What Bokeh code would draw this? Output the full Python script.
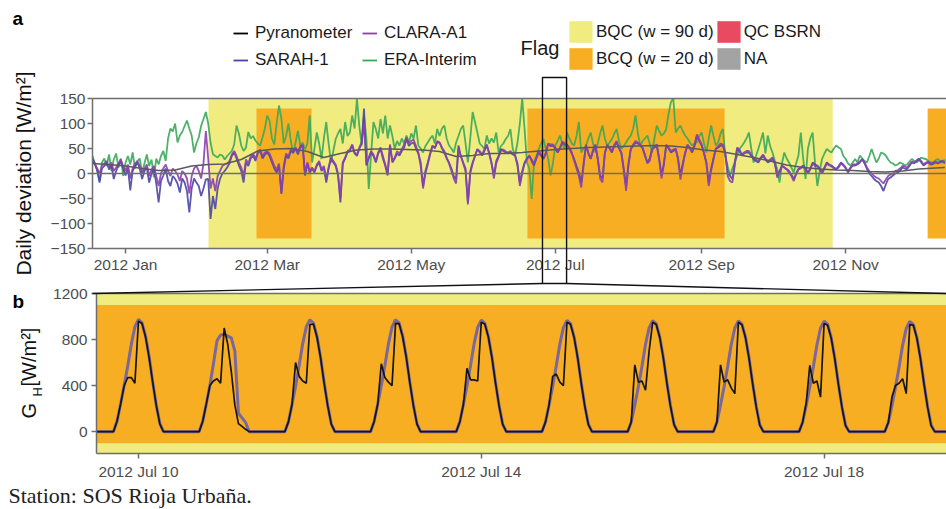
import math
import pandas as pd
from bokeh.plotting import figure
from bokeh.layouts import column
from bokeh.models import (Range1d, FixedTicker, DatetimeTickFormatter, LinearAxis,
                          Span, Label, Legend, LegendItem)
from bokeh.embed import file_html
from bokeh.resources import INLINE

# ---------------- data ----------------
series_start = "2011-12-18"

# daily deviation from the pyranometer [W/m2]
era_interim = [
    35, 20, 8, -15, 22, 30, 15, 38, 5, 28,
    40, 12, 30, -5, 22, 35, 18, 42, 10, 25,
    30, 2, 20, 38, 15, 28, -8, 30, 18, 35,
    45, 25, 70, 90, 84, 100, 62, 76, 83, 95,
    106, 90, 76, 42, 60, 72, 95, 109, 123, 100,
    62, 39, 35, 32, 38, 36, 28, 35, 40, 45,
    58, 96, 80, 56, 45, 52, 83, 70, 75, 66,
    60, 56, 72, 90, 116, 105, 70, 58, 100, 136,
    110, 60, 75, 100, 65, 40, 62, 85, 56, 62,
    48, 60, 116, 22, 50, 82, 60, 29, 70, 103,
    60, 22, 45, 69, 80, 89, 60, 103, 75, 82,
    116, 90, 150, 95, 56, 116, 70, -31, 40, 103,
    89, 70, 109, 80, 116, 70, 96, 75, 49, 65,
    56, 70, 60, 76, 62, 80, 70, 96, 56, 50,
    42, 55, 62, 70, 76, 60, 89, 75, 90, 96,
    70, 56, 50, 42, 62, 75, 89, 96, 60, 22,
    70, 123, 103, 82, 60, 55, 49, 76, 60, 70,
    62, 82, 42, 55, 60, 69, 75, 89, 49, 36,
    62, 100, 150, 89, 22, 10, -51, 22, 35, 49,
    60, 69, 49, 30, -4, 20, 56, 65, 76, 60,
    49, 82, 70, 60, 56, 75, 103, 42, 50, 56,
    70, 82, 60, 42, 60, 80, 96, 70, 56, 62,
    69, 80, 89, 65, 49, 55, 62, 70, 76, 90,
    116, 80, 56, 65, 70, 76, 60, 42, 70, 96,
    85, 76, 80, 89, 120, 143, 150, 82, 90, 96,
    85, 76, 70, 62, 56, 60, 62, 75, 82, 60,
    42, 70, 96, 75, 56, 62, 80, 89, 36, 15,
    -4, 10, 22, 35, 49, 55, 62, 70, 82, 50,
    22, 35, 49, 65, 82, 40, 76, 55, 42, 25,
    9, -18, 20, 42, 30, 22, 12, 2, 20, 36,
    82, 30, -11, 49, 70, 82, 22, -25, 5, 29,
    40, 49, 45, 42, 50, 56, 52, 49, 35, 29,
    20, 16, 22, 29, 22, 36, 30, 25, 22, 35,
    49, 35, 22, 30, 42, 40, 36, 28, 22, 20,
    16, 18, 22, 20, 16, 18, 24, 29, 25, 22,
    26, 32, 30, 29, 25, 22, 22, 26, 29, 25,
    22, 28,
]

sarah_1 = [
    29, 20, 5, -18, 10, 15, 22, 8, 18, -11,
    5, 16, 25, 10, -4, 12, -34, 5, 15, 22,
    10, -11, 5, 12, -18, 0, 9, -20, -58, -15,
    -4, 10, -15, -25, -5, -11, -20, -38, -10, -18,
    -35, -78, -30, -10, -18, -25, -45, -30, -12, -11,
    -91, -45, -71, -30, -11, 0, 5, 12, 20, 35,
    42, 30, 16, 5, -18, 22, 15, 30, 36, 25,
    40, 46, 30, 38, 42, 35, 22, 10, 2, 15,
    -41, 10, 36, 30, 45, 42, 50, 38, 52, 56,
    -4, 20, 2, 10, 2, 15, 22, 5, 12, -18,
    10, 30, 22, 15, -4, -58, 20, 30, 42, 45,
    56, 40, 35, 49, 60, 130, 16, 30, 42, 35,
    22, 40, 49, 30, 15, -4, 56, 22, 30, 40,
    36, 45, 52, 69, 55, 60, 62, 50, 40, 22,
    -25, 5, 22, 40, 56, 50, 62, 62, 50, 42,
    30, 22, 10, -5, -11, 56, 35, 22, 10, -58,
    5, 22, 35, 49, 42, 36, 45, 56, 40, 20,
    -4, 25, 35, 49, 45, 42, 40, 42, 38, 36,
    20, -18, 5, 22, 30, 36, 25, 16, 30, 42,
    35, 29, 40, 59, 55, 56, 50, 42, 50, 62,
    58, 56, 50, 40, 29, 15, 2, -18, 20, 56,
    40, 29, 45, 56, 30, -4, -10, 40, 56, 50,
    42, 55, 62, 50, 42, 10, -25, 20, 49, 55,
    62, 60, 56, 50, 35, 22, 30, 49, 52, 56,
    30, -4, 20, 56, 50, 42, 45, 49, 30, -4,
    20, 40, 56, 50, 42, 55, 76, 65, 56, 40,
    22, -18, 10, 30, 49, 52, 56, 56, 40, 2,
    -5, -11, 20, 49, 45, 36, 40, 42, 42, 35,
    29, 25, 22, 30, 36, 28, 22, 25, 29, 20,
    -4, 5, 16, 12, 9, 5, -2, -11, 0, 9,
    12, 16, 10, 2, 10, 22, 18, 16, 10, 2,
    12, 22, 18, 16, 12, 9, 15, 22, 18, 12,
    2, 10, 16, 16, 18, 22, 29, 20, 9, 0,
    -5, -11, -15, -18, -25, -35, -22, -11, -8, -4,
    0, 2, 5, 12, 10, 9, 15, 22, 20, 25,
    29, 22, 16, 20, 22, 18, 19, 22, 20, 22,
    25, 20,
]

clara_a1 = [
    25, 18, 10, 0, 15, 20, 25, 12, 22, 5,
    12, 20, 28, 15, 5, 18, -10, 10, 20, 25,
    15, 0, 10, 18, -5, 8, 15, -5, -25, 0,
    10, 18, 5, -5, 10, 5, -2, -15, 5, 0,
    -10, -40, -5, 10, 15, 5, -10, 20, 85, 30,
    -30, -10, -35, -5, 5, 15, 18, 20, 25, 38,
    45, 35, 22, 12, -5, 28, 20, 35, 40, 30,
    42, 48, 35, 42, 45, 40, 28, 15, 8, 20,
    -38, 15, 40, 35, 48, 45, 52, 42, 55, 58,
    0, 22, 5, 12, 5, 18, 25, 8, 15, -12,
    12, 32, 25, 18, 0, -50, 22, 32, 45, 48,
    58, 42, 38, 52, 62, 100, 20, 32, 45, 38,
    25, 42, 52, 35, 18, 0, 58, 25, 32, 45,
    40, 48, 58, 72, 60, 65, 68, 55, 42, 15,
    -30, 0, 18, 38, 55, 52, 65, 62, 52, 45,
    32, 20, 5, -10, -20, 50, 35, 20, 5, -62,
    0, 20, 35, 48, 45, 38, 48, 58, 42, 22,
    -10, 20, 32, 45, 48, 44, 42, 45, 40, 35,
    15, -25, 0, 20, 28, 35, 28, 18, 32, 45,
    38, 30, 42, 60, 58, 58, 52, 45, 52, 64,
    60, 58, 52, 42, 25, 10, -5, -28, 15, 58,
    42, 30, 48, 58, 28, -10, -18, 42, 58, 52,
    45, 58, 65, 52, 40, 5, -35, 15, 50, 58,
    65, 62, 58, 52, 38, 20, 25, 48, 55, 58,
    28, -10, 18, 58, 52, 45, 48, 50, 28, -12,
    15, 42, 58, 52, 45, 58, 78, 68, 58, 42,
    20, -25, 5, 28, 50, 55, 60, 58, 42, -5,
    -15, -18, 15, 52, 48, 38, 42, 45, 45, 38,
    30, 28, 25, 32, 38, 30, 25, 28, 32, 22,
    -8, 0, 15, 12, 8, 2, -5, -15, -2, 8,
    10, 15, 8, 0, 8, 20, 15, 14, 8, 0,
    10, 20, 16, 14, 10, 8, 12, 20, 16, 10,
    5, 12, 18, 18, 20, 24, 28, 22, 12, 5,
    0, -5, -8, -10, -15, -20, -12, -5, -2, 0,
    5, 6, 10, 15, 14, 12, 18, 24, 22, 26,
    30, 25, 18, 22, 24, 20, 21, 24, 22, 24,
    26, 22,
]

# smoothed deviation, one value per week
trend_days = [0, 7, 14, 21, 28, 35, 42, 49, 56, 63, 70, 77, 84, 91, 98, 105, 112,
              119, 126, 133, 140, 147, 154, 161, 168, 175, 182, 189, 196, 203, 210,
              217, 224, 231, 238, 245, 252, 259, 266, 273, 280, 287, 294, 301, 308,
              315, 322, 329, 336, 343, 350, 357, 361]
trend_values = [20, 18, 15, 10, 6, 7, 15, 18, 19, 28, 45, 49, 50, 44, 32, 40, 47,
                49, 49, 48, 47, 44, 34, 36, 40, 40, 42, 45, 48, 50, 52,
                53, 54, 55, 56, 55, 52, 47, 44, 38, 32, 25, 17, 12, 9,
                7, 6, 4, 3, 5, 9, 11, 12]

# flagged periods
bqc_90d = [("2012-02-05 03:00", "2012-10-26 12:00")]
bcq_20d = [("2012-02-25 11:00", "2012-03-19 18:00"),
           ("2012-06-19 05:00", "2012-09-10 17:00"),
           ("2012-12-05 17:00", "2012-12-31 00:00")]
zoom_window = ("2012-06-25 14:00", "2012-07-05 19:00")

top_ticks = ["2012-01-01", "2012-03-01", "2012-05-01", "2012-07-01",
             "2012-09-01", "2012-11-01"]

# hourly global horizontal irradiance [W/m2], hours 05..19 of each day
gh_first_day = "2012-07-10"
gh_first_hour = 5
satellite_gh = [
    [0, 90, 240, 400, 570, 760, 910, 975, 945, 830, 650, 430, 230, 70, 0],
    [0, 90, 240, 400, 590, 790, 840, 845, 830, 815, 700, 160, 120, 80, 0],
    [0, 85, 235, 395, 575, 765, 910, 972, 942, 828, 648, 428, 228, 68, 0],
    [0, 88, 238, 398, 572, 762, 908, 972, 944, 830, 650, 430, 230, 70, 0],
    [0, 86, 236, 396, 574, 764, 906, 968, 940, 826, 646, 426, 226, 66, 0],
    [0, 85, 234, 394, 570, 760, 904, 966, 938, 824, 644, 424, 224, 64, 0],
    [0, 84, 232, 392, 568, 758, 902, 964, 936, 822, 642, 422, 222, 62, 0],
    [0, 83, 230, 390, 566, 756, 900, 962, 934, 820, 640, 420, 220, 60, 0],
    [0, 82, 228, 388, 564, 754, 898, 960, 932, 818, 638, 418, 218, 58, 0],
    [0, 80, 226, 386, 562, 752, 896, 958, 930, 816, 636, 416, 216, 56, 0],
]
pyranometer_gh = [
    [0, 90, 240, 400, 470, 470, 420, 960, 940, 820, 640, 425, 225, 65, 0],
    [0, 90, 240, 400, 440, 460, 420, 900, 760, 520, 230, 70, 45, 20, 0],
    [0, 85, 235, 600, 480, 440, 420, 930, 935, 820, 640, 420, 225, 65, 0],
    [0, 88, 238, 590, 470, 430, 400, 940, 938, 822, 645, 425, 225, 65, 0],
    [0, 86, 236, 550, 450, 450, 440, 950, 935, 820, 640, 420, 222, 62, 0],
    [0, 85, 234, 480, 500, 430, 400, 950, 932, 818, 640, 420, 220, 60, 0],
    [0, 84, 580, 430, 440, 360, 700, 950, 930, 815, 636, 418, 218, 58, 0],
    [0, 83, 580, 430, 450, 380, 330, 950, 928, 815, 635, 415, 215, 55, 0],
    [0, 82, 250, 575, 420, 440, 300, 940, 925, 812, 632, 412, 212, 52, 0],
    [0, 80, 300, 400, 420, 460, 330, 930, 925, 810, 630, 410, 210, 50, 0],
]
bottom_ticks = ["2012-07-10 12:00", "2012-07-14 12:00", "2012-07-18 12:00"]

# ---------------- styling ----------------
FONT = "Liberation Sans"
AXIS_GREY = "#6e6e6e"
TICK_TEXT = "#4d4d4d"
YELLOW = "#f1ec80"
ORANGE = "#f8ae22"
RED = "#e84a62"
GREY_NA = "#a3a3a3"
C_ERA = "#3aa85a"
C_SARAH = "#4b45a5"
C_CLARA = "#8b3fae"
C_TREND = "#5a5a5a"
C_GH_SAT = "#6d5fa6"

W, H = 946, 509
DAY = pd.Timedelta(days=1)


def ms(ts):
    return pd.Timestamp(ts).value / 1e6


def style_axes(p):
    for ax in p.axis:
        ax.axis_line_color = AXIS_GREY
        ax.axis_line_width = 1.5
        ax.major_tick_line_color = AXIS_GREY
        ax.major_tick_line_width = 1.5
        ax.major_tick_out = 5
        ax.major_tick_in = 0
        ax.minor_tick_line_color = None
        ax.major_label_text_font = FONT
        ax.major_label_text_font_size = "15.5px"
        ax.major_label_text_color = TICK_TEXT
    p.grid.visible = False


def add_top_border(p):
    border = LinearAxis(ticker=FixedTicker(ticks=[]), axis_line_color=AXIS_GREY,
                        axis_line_width=1.5, major_tick_out=0, major_tick_in=0,
                        major_label_standoff=0, major_label_text_font_size="0px",
                        minor_tick_line_color=None)
    p.add_layout(border, "above")


def draw_flags(p, full_bottom, full_top, inner_bottom, inner_top):
    for a, b in bqc_90d:
        p.quad(left=[pd.Timestamp(a)], right=[pd.Timestamp(b)],
               bottom=[full_bottom], top=[full_top],
               fill_color=YELLOW, line_color=None)
    for a, b in bcq_20d:
        p.quad(left=[pd.Timestamp(a)], right=[pd.Timestamp(b)],
               bottom=[inner_bottom], top=[inner_top],
               fill_color=ORANGE, line_color=None)


# ---------------- panel a: daily deviations ----------------
A_LEFT, A_TOP, A_BOTTOM, A_H = 92, 98, 248, 280
t0 = pd.Timestamp(series_start)
a_days = 361.7
t1 = t0 + a_days * DAY
top = figure(width=W, height=A_H, x_axis_type="datetime",
             x_range=Range1d(t0, t1), y_range=Range1d(-150, 150),
             output_backend="svg", toolbar_location=None, frame_align=False,
             min_border_left=A_LEFT, min_border_right=0, min_border_top=A_TOP,
             min_border_bottom=A_H - A_BOTTOM, outline_line_color=None,
             background_fill_color="white", border_fill_color="white")

draw_flags(top, -150, 150, -130, 130)
top.add_layout(Span(location=0, dimension="width", line_color=AXIS_GREY, line_width=1.5))

days_era = pd.date_range(t0, periods=len(era_interim), freq="D")
days_sarah = pd.date_range(t0, periods=len(sarah_1), freq="D")
days_clara = pd.date_range(t0, periods=len(clara_a1), freq="D")
top.line(days_era, era_interim, line_color=C_ERA, line_width=1.8, line_alpha=0.9)
top.line(days_sarah, sarah_1, line_color=C_SARAH, line_width=1.8, line_alpha=0.9)
top.line(days_clara, clara_a1, line_color=C_CLARA, line_width=1.8, line_alpha=0.9)
trend_x = [t0 + d * DAY for d in trend_days]
top.line(trend_x, trend_values, line_color=C_TREND, line_width=1.6)

top.xaxis.ticker = FixedTicker(ticks=[ms(t) for t in top_ticks])
top.xaxis.formatter = DatetimeTickFormatter(months="%Y %b", days="%Y %b", hours="%Y %b")
top.yaxis.ticker = FixedTicker(ticks=[-150, -100, -50, 0, 50, 100, 150])
top.yaxis.axis_label = "Daily deviation [W/m²]"
add_top_border(top)
style_axes(top)
top.xaxis.major_label_standoff = 2
top.yaxis.major_label_standoff = 2
top.yaxis.axis_label_text_font = FONT
top.yaxis.axis_label_text_font_size = "21px"
top.yaxis.axis_label_text_font_style = "normal"
top.yaxis.axis_label_text_color = "#111111"
top.yaxis.axis_label_standoff = 13

# ---------------- panel b: hourly irradiance ----------------
gh_days = pd.date_range(gh_first_day, periods=len(satellite_gh), freq="D")
gh_time, gh_sat, gh_pyr = [], [], []
for day, sat, pyr in zip(gh_days, satellite_gh, pyranometer_gh):
    for h in range(24):
        gh_time.append(day + pd.Timedelta(hours=h))
        k = h - gh_first_hour
        gh_sat.append(sat[k] if 0 <= k < len(sat) else 0)
        gh_pyr.append(pyr[k] if 0 <= k < len(pyr) else 0)
gh_time.append(gh_days[-1] + DAY)
gh_sat.append(0)
gh_pyr.append(0)

B_LEFT, B_TOP, B_BOTTOM = 96, 293, 453
b0 = pd.Timestamp("2012-07-10 00:15")
b1 = b0 + 9.918 * DAY
bot = figure(width=W, height=H - A_H, x_axis_type="datetime",
             x_range=Range1d(b0, b1), y_range=Range1d(-190, 1200),
             output_backend="svg", toolbar_location=None, frame_align=False,
             min_border_left=B_LEFT, min_border_right=0, min_border_top=B_TOP - A_H,
             min_border_bottom=H - B_BOTTOM, outline_line_color=None,
             background_fill_color="white", border_fill_color="white")
draw_flags(bot, -190, 1200, -100, 1100)
bot.line(gh_time, gh_sat, line_color=C_GH_SAT, line_width=3, line_alpha=0.9)
bot.line(gh_time, gh_pyr, line_color="#151515", line_width=1.7)

bot.xaxis.ticker = FixedTicker(ticks=[ms(t) for t in bottom_ticks])
bot.xaxis.formatter = DatetimeTickFormatter(days="%Y %b %d", hours="%Y %b %d",
                                            months="%Y %b %d")
bot.yaxis.ticker = FixedTicker(ticks=[0, 400, 800, 1200])
add_top_border(bot)
style_axes(bot)
bot.xaxis.major_label_standoff = 4
bot.yaxis.major_label_standoff = 4

# ---------------- overlay: legends, labels, zoom window ----------------
# shares panel a's scales, extended over the whole page
px_per_day = (W - A_LEFT) / a_days
px_per_unit = (A_BOTTOM - A_TOP) / 300.0
ov_x0 = t0 - (A_LEFT / px_per_day) * DAY
ov_y_top = 150 + A_TOP / px_per_unit
ov_y_bot = 150 - (H - A_TOP) / px_per_unit
ov = figure(width=W, height=H, x_axis_type="datetime",
            x_range=Range1d(ov_x0, t1), y_range=Range1d(ov_y_bot, ov_y_top),
            output_backend="svg", toolbar_location=None, frame_align=False,
            x_axis_location=None, y_axis_location=None,
            min_border_left=0, min_border_right=0, min_border_top=0,
            min_border_bottom=0, outline_line_color=None,
            background_fill_color=None, border_fill_color=None,
            styles={"position": "absolute", "top": "0px", "left": "0px"})
ov.grid.visible = False


def val_at(page_y):
    return 150 - (page_y - A_TOP) / px_per_unit


zx0, zx1 = pd.Timestamp(zoom_window[0]), pd.Timestamp(zoom_window[1])
z_top, z_bot, z_link = val_at(77), val_at(283), val_at(B_TOP)
ov.quad(left=[zx0], right=[zx1], bottom=[z_bot], top=[z_top],
        fill_color=None, line_color="#111111", line_width=1.4)
ov.segment(x0=[zx0, zx1], y0=[z_bot, z_bot], x1=[t0, t1],
           y1=[z_link, z_link], line_color="#111111", line_width=1.4)

# legend keys (placed outside the visible range)
kx = [ov_x0 - 20 * DAY, ov_x0 - 10 * DAY]
k_pyr = ov.line(x=kx, y=[0, 0], line_color="black", line_width=1.8)
k_sarah = ov.line(x=kx, y=[0, 0], line_color=C_SARAH, line_width=1.8)
k_clara = ov.line(x=kx, y=[0, 0], line_color=C_CLARA, line_width=1.8)
k_era = ov.line(x=kx, y=[0, 0], line_color=C_ERA, line_width=1.8)


def key_box(color):
    return ov.quad(left=[kx[0]], right=[kx[1]], bottom=[0], top=[1],
                   fill_color=color, line_color=None)


k_bqc, k_bcq, k_qc, k_na = (key_box(YELLOW), key_box(ORANGE), key_box(RED),
                            key_box(GREY_NA))

leg_lines = Legend(items=[LegendItem(label="Pyranometer", renderers=[k_pyr]),
                          LegendItem(label="SARAH-1", renderers=[k_sarah]),
                          LegendItem(label="CLARA-A1", renderers=[k_clara]),
                          LegendItem(label="ERA-Interim", renderers=[k_era])],
                   location=(233, H - 72), nrows=2, glyph_width=15, glyph_height=24,
                   label_standoff=7, label_width=104, spacing=3, padding=0, margin=0,
                   label_text_font=FONT, label_text_font_size="17px",
                   label_text_color="#1a1a1a", border_line_color=None,
                   background_fill_alpha=0)
leg_flags = Legend(items=[LegendItem(label="BQC (w = 90 d)", renderers=[k_bqc]),
                          LegendItem(label="BCQ (w = 20 d)", renderers=[k_bcq]),
                          LegendItem(label="QC BSRN", renderers=[k_qc]),
                          LegendItem(label="NA", renderers=[k_na])],
                   location=(566, H - 72), nrows=2, glyph_width=29, glyph_height=27,
                   label_standoff=1, spacing=0, padding=0, margin=0,
                   label_text_font=FONT, label_text_font_size="17px",
                   label_text_color="#1a1a1a", border_line_color=None,
                   background_fill_alpha=0)
ov.add_layout(leg_lines)
ov.add_layout(leg_flags)


def page_label(text, x, y, size, bold=False, font=FONT, angle=0.0, color="#1a1a1a"):
    ov.add_layout(Label(x=x, y=H - y, x_units="screen", y_units="screen", text=text,
                        angle=angle, text_font=font, text_font_size=size,
                        text_font_style="bold" if bold else "normal",
                        text_color=color, text_baseline="middle", text_align="left"))


page_label("a", 12, 18, "19px", bold=True, color="black")
page_label("b", 12, 301, "19px", bold=True, color="black")
page_label("Flag", 520, 47, "20px")
page_label("G", 28.5, 418, "20px", angle=math.pi / 2, color="#111111")
page_label("H", 36.5, 396, "13px", angle=math.pi / 2, color="#111111")
page_label(" [W/m²]", 28.5, 386, "20px", angle=math.pi / 2, color="#111111")
page_label("Station: SOS Rioja Urbaña.", 8, 495, "22px", font="Liberation Serif",
           color="#222222")

page = column(top, bot, spacing=0)
open("out.html", "w").write(file_html([page, ov], INLINE))
